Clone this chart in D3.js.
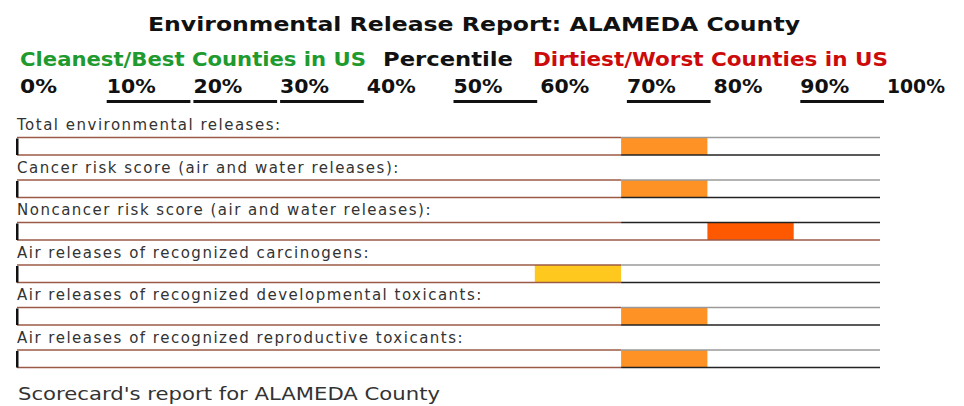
<!DOCTYPE html>
<html><head><meta charset="utf-8">
<script src="https://cdn.jsdelivr.net/npm/d3@7"></script>
<style>html,body{margin:0;padding:0;background:#fff;}svg{display:block;}</style>
</head><body>
<script>
const title = "Environmental Release Report: ALAMEDA County";
const legendTexts = ["Cleanest/Best Counties in US", "Percentile", "Dirtiest/Worst Counties in US"];
const tickValues = [0, 10, 20, 30, 40, 50, 60, 70, 80, 90, 100];
const underlinedTicks = [10, 20, 30, 50, 70, 90];
const categories = [
  "Total environmental releases:",
  "Cancer risk score (air and water releases):",
  "Noncancer risk score (air and water releases):",
  "Air releases of recognized carcinogens:",
  "Air releases of recognized developmental toxicants:",
  "Air releases of recognized reproductive toxicants:"
];
const rangeStart = [70, 70, 80, 60, 70, 70];
const rangeEnd = [80, 80, 90, 70, 80, 80];
const barColors = ["#fe9224", "#fe9224", "#fe5800", "#ffc81e", "#fe9224", "#fe9224"];
const footer = "Scorecard's report for ALAMEDA County";

const W = 964, H = 406;
const svg = d3.select("body").append("svg").attr("width", W).attr("height", H);
const font = "'DejaVu Sans', Verdana, sans-serif";

// Title
svg.append("text").attr("x", 148).attr("y", 31).attr("font-family", font)
  .attr("font-weight", "bold").attr("font-size", 20).attr("fill", "#111")
  .attr("textLength", 652).attr("lengthAdjust", "spacingAndGlyphs").text(title);

// Legend
const legPos = [[20, 346, "#1e9a2e"], [383, 130, "#111"], [533, 355, "#cc0a0a"]];
legendTexts.forEach((t, i) => {
  svg.append("text").attr("x", legPos[i][0]).attr("y", 66).attr("font-family", font)
    .attr("font-weight", "bold").attr("font-size", 20).attr("fill", legPos[i][2])
    .attr("textLength", legPos[i][1]).attr("lengthAdjust", "spacingAndGlyphs").text(t);
});

// Percent labels scale
const lx = d3.scaleLinear().domain([0, 100]).range([20, 887]);
const pctW = v => v === 100 ? 58 : (v === 0 ? 37 : 49);
svg.selectAll("text.pct").data(tickValues).join("text").attr("class", "pct")
  .attr("x", d => lx(d)).attr("y", 93).attr("font-family", font)
  .attr("font-weight", "bold").attr("font-size", 19).attr("fill", "#111")
  .attr("textLength", d => pctW(d)).attr("lengthAdjust", "spacingAndGlyphs")
  .text(d => d + "%");
svg.selectAll("line.ul").data(underlinedTicks).join("line").attr("class", "ul")
  .attr("x1", d => lx(d)).attr("x2", d => lx(d + 10) - 3)
  .attr("y1", 101.5).attr("y2", 101.5).attr("stroke", "#111").attr("stroke-width", 3);

// Tracks
const x = d3.scaleLinear().domain([0, 100]).range([17, 880]);
const pitch = 42.5;
const rowTop = (d, i) => 137.5 + i * pitch;
const trackH = 17.5;
const brown = "#9b5a45";

const rows = svg.selectAll("g.row").data(categories).join("g").attr("class", "row");
rows.append("text").attr("x", 17).attr("y", (d, i) => rowTop(d, i) - 7.5)
  .attr("font-family", font).attr("font-size", 15).attr("letter-spacing", 1.5)
  .attr("fill", "#333").text(d => d);

rows.append("rect").attr("x", (d, i) => x(rangeStart[i])).attr("y", (d, i) => rowTop(d, i))
  .attr("width", (d, i) => x(rangeEnd[i]) - x(rangeStart[i])).attr("height", trackH)
  .attr("fill", (d, i) => barColors[i]);

// top lines
rows.append("line").attr("x1", x(0)).attr("x2", x(70)).attr("y1", (d, i) => rowTop(d, i)).attr("y2", (d, i) => rowTop(d, i))
  .attr("stroke", brown).attr("stroke-width", 1.5);
rows.append("line").attr("x1", x(70)).attr("x2", x(100)).attr("y1", (d, i) => rowTop(d, i)).attr("y2", (d, i) => rowTop(d, i))
  .attr("stroke", (d, i) => i === 2 ? "#222" : "#9a9a9a").attr("stroke-width", 1.5);
// bottom lines
rows.append("line").attr("x1", x(0)).attr("x2", (d, i) => i === 2 ? x(100) : x(70))
  .attr("y1", (d, i) => rowTop(d, i) + trackH).attr("y2", (d, i) => rowTop(d, i) + trackH)
  .attr("stroke", brown).attr("stroke-width", 1.5);
rows.filter((d, i) => i !== 2).append("line").attr("x1", x(70)).attr("x2", x(100))
  .attr("y1", (d) => rowTop(d, categories.indexOf(d)) + trackH).attr("y2", (d) => rowTop(d, categories.indexOf(d)) + trackH)
  .attr("stroke", "#222").attr("stroke-width", 1.5);
// left black tick
rows.append("rect").attr("x", x(0) - 1).attr("y", (d, i) => rowTop(d, i) + 1).attr("width", 2.5).attr("height", trackH - 1)
  .attr("fill", "#111");

// Footer
svg.append("text").attr("x", 18).attr("y", 400).attr("font-family", font)
  .attr("font-size", 18).attr("fill", "#333")
  .attr("textLength", 422).attr("lengthAdjust", "spacingAndGlyphs").text(footer);
</script>
</body></html>
